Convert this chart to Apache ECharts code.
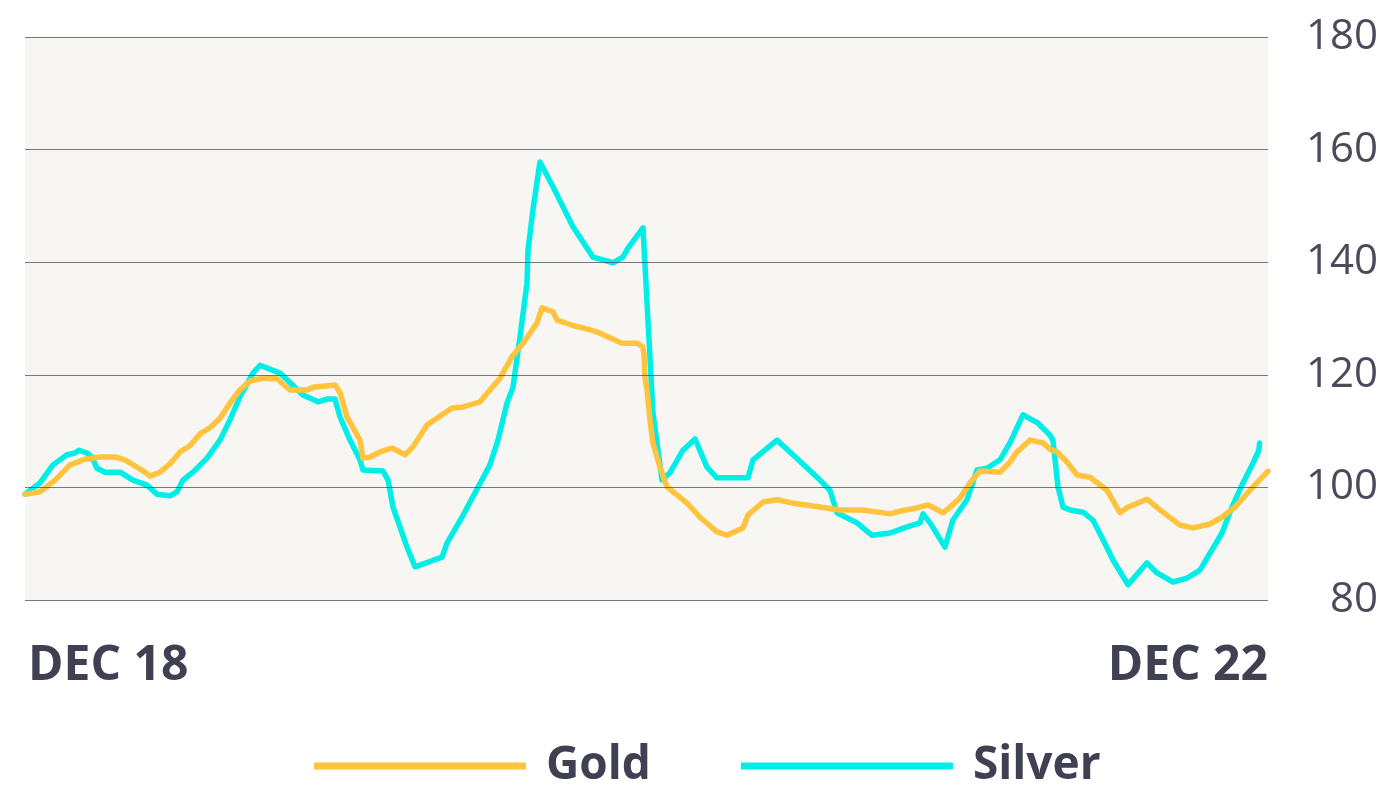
<!DOCTYPE html>
<html>
<head>
<meta charset="utf-8">
<title>Gold vs Silver</title>
<script src="https://cdn.jsdelivr.net/npm/echarts@6/dist/echarts.min.js"></script>
<style>
  html, body { margin: 0; padding: 0; background: #fff; }
  #chart { width: 1389px; height: 787px; }
</style>
</head>
<body>
<div id="chart"></div>
<script>
// hours since Dec 18 (0..96) and index value
const goldHours = [0, 1.16, 2.32, 3.48, 4.63, 5.79, 6.95, 7.72, 8.5, 9.27, 9.65, 10.43, 11.2, 11.97, 12.74, 13.51, 14.29, 15.06, 15.83, 16.6, 17.38, 18.38, 19.46, 20.47, 21.78, 22.24, 23.94, 24.33, 24.87, 25.87, 26.1, 26.65, 27.42, 28.34, 29.35, 29.97, 31.05, 32.98, 33.83, 35.14, 35.91, 36.69, 37.61, 38.46, 39.54, 39.93, 40.78, 41.09, 42.25, 43.64, 44.41, 46.11, 47.27, 47.7, 47.8, 47.88, 48.04, 48.27, 48.5, 49.04, 49.58, 51.13, 52.13, 53.44, 54.22, 55.45, 55.84, 57.0, 58.08, 59.31, 60.86, 62.94, 64.72, 66.81, 67.58, 68.58, 69.74, 70.9, 71.44, 72.21, 72.98, 73.76, 75.3, 76.07, 76.61, 77.62, 78.62, 79.16, 79.7, 80.48, 81.25, 82.25, 83.56, 84.57, 85.19, 86.65, 87.66, 89.2, 90.21, 91.52, 92.45, 93.45, 94.61, 96];
const goldValues = [98.8, 99.2, 101.3, 104.0, 105.0, 105.4, 105.4, 104.9, 103.8, 102.7, 102.0, 102.7, 104.2, 106.3, 107.4, 109.5, 110.6, 112.3, 115.0, 117.3, 118.9, 119.4, 119.3, 117.3, 117.3, 117.8, 118.2, 116.8, 112.5, 108.4, 105.2, 105.4, 106.3, 107.0, 105.8, 107.2, 111.1, 114.1, 114.3, 115.2, 117.3, 119.4, 123.2, 125.6, 129.2, 131.9, 131.2, 129.7, 128.8, 128.0, 127.4, 125.6, 125.6, 125.0, 123.8, 119.6, 117.3, 112.0, 107.9, 103.6, 100.1, 97.2, 94.7, 92.1, 91.5, 92.8, 95.1, 97.4, 97.8, 97.2, 96.7, 96.0, 96.0, 95.3, 95.8, 96.2, 96.9, 95.5, 96.5, 98.1, 100.8, 102.9, 102.7, 104.5, 106.3, 108.4, 107.9, 106.8, 106.3, 104.5, 102.2, 101.8, 99.5, 95.5, 96.5, 97.9, 96.0, 93.3, 92.8, 93.5, 94.7, 96.5, 99.5, 102.9];

const silverHours = [0, 1.16, 2.16, 3.24, 3.86, 4.17, 4.79, 5.17, 5.56, 6.18, 7.34, 8.34, 9.42, 10.19, 11.2, 11.74, 12.2, 12.97, 14.06, 15.06, 15.83, 16.6, 17.61, 18.15, 19.69, 21.47, 22.63, 23.32, 23.94, 24.33, 25.1, 25.87, 26.1, 27.65, 28.04, 28.42, 28.96, 29.5, 30.12, 32.21, 32.59, 33.75, 35.91, 36.53, 37.23, 37.69, 38.23, 38.77, 38.85, 39.23, 39.77, 40.78, 42.32, 43.87, 45.41, 46.18, 46.57, 47.73, 48.5, 49.2, 49.81, 50.82, 51.75, 52.67, 53.44, 55.84, 56.23, 58.08, 59.31, 61.4, 62.17, 62.71, 64.26, 65.42, 66.81, 68.12, 69.12, 69.36, 69.9, 71.05, 71.67, 72.75, 73.53, 74.3, 75.3, 76.07, 77.08, 78.24, 79.16, 79.39, 79.78, 80.17, 80.71, 81.71, 82.48, 83.26, 84.03, 85.19, 86.65, 87.43, 88.66, 89.74, 90.75, 91.52, 92.45, 93.22, 94.07, 94.84, 95.3, 95.35];
const silverValues = [98.8, 100.8, 104.0, 105.8, 106.1, 106.6, 106.1, 105.4, 103.4, 102.7, 102.7, 101.3, 100.4, 98.8, 98.5, 99.2, 101.3, 102.7, 105.2, 108.4, 112.0, 116.1, 120.3, 121.7, 120.3, 116.4, 115.2, 115.7, 115.7, 112.5, 108.4, 104.9, 103.1, 102.9, 101.3, 96.5, 93.0, 89.4, 85.9, 87.6, 90.1, 94.7, 104.0, 108.4, 115.0, 117.8, 126.7, 136.3, 142.2, 149.3, 157.8, 153.4, 146.3, 140.9, 139.9, 140.9, 142.5, 146.1, 113.2, 101.3, 102.6, 106.6, 108.6, 103.6, 101.7, 101.7, 104.9, 108.4, 105.8, 101.3, 99.5, 95.5, 93.7, 91.5, 91.9, 93.0, 93.7, 95.3, 93.7, 89.4, 94.2, 97.8, 103.1, 103.4, 104.9, 107.9, 112.9, 111.4, 109.3, 108.4, 100.1, 96.5, 96.0, 95.6, 94.2, 90.7, 87.1, 82.7, 86.6, 84.8, 83.2, 83.9, 85.3, 88.3, 91.9, 96.5, 100.8, 104.3, 106.6, 107.9];

const xLabels = ['DEC 18', 'DEC 22'];
const yTicks = { min: 80, max: 180, step: 20 };

const pairs = (xs, ys) => xs.map((x, i) => [x, ys[i]]);

const chart = echarts.init(document.getElementById('chart'));

const textColor = '#3f4052';

chart.setOption({
  animation: false,
  grid: {
    left: 25,
    right: 121,
    top: 37,
    bottom: 187,
    show: true,
    backgroundColor: '#f7f6f2',
    borderWidth: 0
  },
  legend: {
    left: 309,
    top: 738,
    icon: 'rect',
    itemWidth: 212,
    itemHeight: 7,
    itemGap: 90,
    data: ['Gold', 'Silver'],
    textStyle: {
      fontFamily: 'Open Sans',
      fontWeight: 'bold',
      fontSize: 46,
      color: textColor,
      padding: [0, 0, 0, 15]
    }
  },
  xAxis: {
    type: 'value',
    min: 0,
    max: 96,
    interval: 96,
    axisLine: { show: false },
    axisTick: { show: false },
    splitLine: { show: false },
    axisLabel: {
      margin: 42,
      alignMinLabel: 'left',
      alignMaxLabel: 'right',
      fontFamily: 'Open Sans',
      fontWeight: 'bold',
      fontSize: 48,
      color: textColor,
      padding: [0, 0, 0, 3],
      formatter: v => (v === 0 ? xLabels[0] : xLabels[1])
    }
  },
  yAxis: {
    type: 'value',
    position: 'right',
    min: yTicks.min,
    max: yTicks.max,
    interval: yTicks.step,
    z: 5,
    axisLine: { show: false },
    axisTick: { show: false },
    splitLine: {
      lineStyle: { color: '#4a4a5e', width: 1.2, opacity: 0.75 }
    },
    axisLabel: {
      margin: 110,
      align: 'right',
      fontFamily: 'Open Sans',
      fontSize: 42,
      color: '#4a4b5a'
    }
  },
  series: [
    {
      name: 'Gold',
      type: 'line',
      z: 3,
      symbol: 'none',
      data: pairs(goldHours, goldValues),
      itemStyle: { color: '#ffc33e' },
      lineStyle: { color: '#ffc33e', width: 5.5, cap: 'round', join: 'round' }
    },
    {
      name: 'Silver',
      type: 'line',
      z: 2,
      symbol: 'none',
      data: pairs(silverHours, silverValues),
      itemStyle: { color: '#00eee8' },
      lineStyle: { color: '#00eee8', width: 5.5, cap: 'round', join: 'round' }
    }
  ]
});
</script>
</body>
</html>
